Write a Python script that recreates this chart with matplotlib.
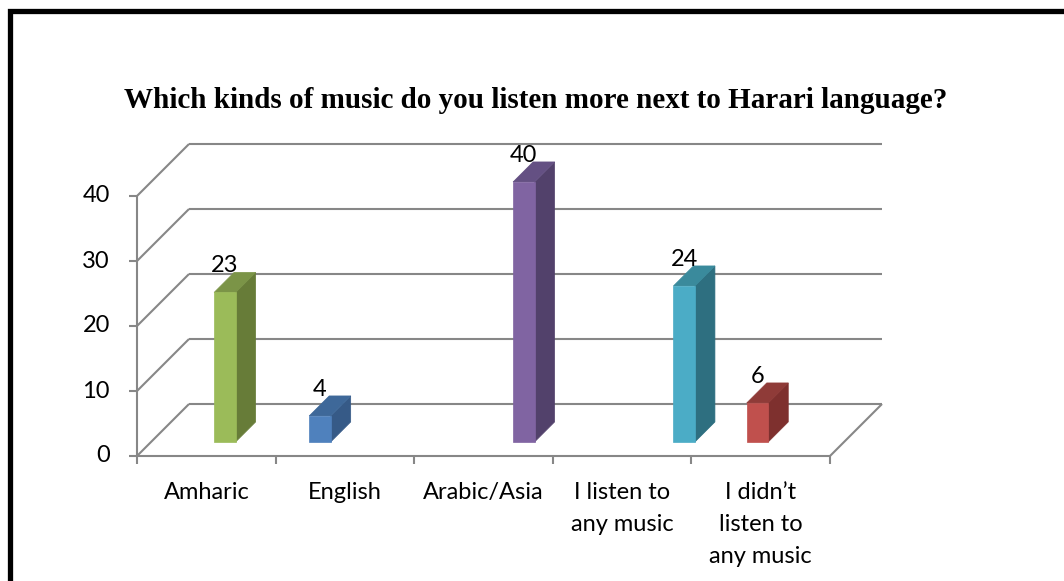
import matplotlib
matplotlib.use('Agg')
import matplotlib.pyplot as plt
from matplotlib.patches import Polygon
from matplotlib.lines import Line2D

# survey answers
categories = ['Amharic', 'English', 'Arabic/Asia', 'I listen to\nany music',
              'I didn\u2019t\nlisten to\nany music']
counts = [23, 4, 40, 24, 6]
value_ticks = [0, 10, 20, 30, 40]
title = 'Which kinds of music do you listen more next to Harari language?'

# each answer is its own series in a 5-wide cluster; slot inside the cluster
series_slot = [2, 0, 3, 4, 1]
face_colors = ['#9BBB59', '#4F81BD', '#8064A2', '#4BACC6', '#C0504D']
side_colors = ['#677C38', '#365A87', '#52416B', '#2E6F80', '#7E302E']
top_colors = ['#7B9447', '#3E6899', '#645083', '#3A8A9C', '#8F3B38']

W, H = 1064, 581
PX_CAT, PX_VAL = 138.6, 6.5          # pixels per category / per unit
DX, DY = 52 / PX_CAT, 52 / PX_VAL    # depth offset in data units
GRID = '#878787'

fig = plt.figure(figsize=(W / 100, H / 100), dpi=100)
ax = fig.add_axes([137 / W, (H - 456) / H, (5 + DX) * PX_CAT / W,
                   (40 + DY) * PX_VAL / H])
ax.set_xlim(0, 5 + DX)
ax.set_ylim(0, 40 + DY)
ax.axis('off')


def pt(x, v, d):
    return (x + d * DX, v + d * DY)


def seg(p, q, **kw):
    ax.add_line(Line2D([p[0], q[0]], [p[1], q[1]], color=GRID, lw=1.5,
                       clip_on=False, solid_capstyle='butt', **kw))


n = len(categories)
# back wall and side wall grid
for v in value_ticks:
    seg(pt(0, v, 1), pt(n, v, 1))
    seg(pt(0, v, 0), pt(0, v, 1))
# floor edges and front axis
seg(pt(0, 0, 0), pt(n, 0, 0))
seg(pt(n, 0, 0), pt(n, 0, 1))
seg(pt(0, 0, 0), pt(0, value_ticks[-1], 0))

tick_dx = 8 / PX_CAT
tick_dy = 8 / PX_VAL
for v in value_ticks:
    seg((-tick_dx, v), (0, v))
    ax.text(-27 / PX_CAT, v, str(v), ha='right', va='center',
            fontsize=17, family='Lato', color='black')
for i in range(n + 1):
    seg((i, 0), (i, -tick_dy))
for i, lab in enumerate(categories):
    ax.text(i + 0.5, -26 / PX_VAL, lab, ha='center', va='top', fontsize=17,
            family='Lato', linespacing=1.65, color='black')

# bars as oblique boxes
BAR_W = 0.155
D0, D1 = 0.27, 0.655
for i, (val, slot) in enumerate(zip(counts, series_slot)):
    x0 = i + 0.141 + 0.157 * slot
    x1 = x0 + BAR_W
    front = [pt(x0, 0, D0), pt(x1, 0, D0), pt(x1, val, D0), pt(x0, val, D0)]
    side = [pt(x1, 0, D0), pt(x1, 0, D1), pt(x1, val, D1), pt(x1, val, D0)]
    top = [pt(x0, val, D0), pt(x1, val, D0), pt(x1, val, D1), pt(x0, val, D1)]
    for poly, c in ((side, side_colors[i]), (top, top_colors[i]),
                    (front, face_colors[i])):
        ax.add_patch(Polygon(poly, closed=True, facecolor=c, edgecolor=c,
                             lw=0.5, zorder=3, clip_on=False))
    lx = pt(x0 + BAR_W / 2, val, D0)[0]
    ly = pt(x0, val, D1)[1]
    ax.text(lx, ly, str(val), ha='center', va='baseline', fontsize=17,
            family='Lato', zorder=4)

fig.text(536 / W, 1 - 100 / H, title, ha='center', va='center',
         fontsize=21, fontweight='bold', family='Liberation Serif')

# outer frame (top and left edges)
fig.add_artist(Line2D([9.5 / W, 9.5 / W, 1.01], [-0.01, 1 - 10.5 / H,
                                                   1 - 10.5 / H],
                      transform=fig.transFigure, color='black', lw=3.8,
                      solid_joinstyle='miter'))

fig.savefig('out.png', dpi=100)
